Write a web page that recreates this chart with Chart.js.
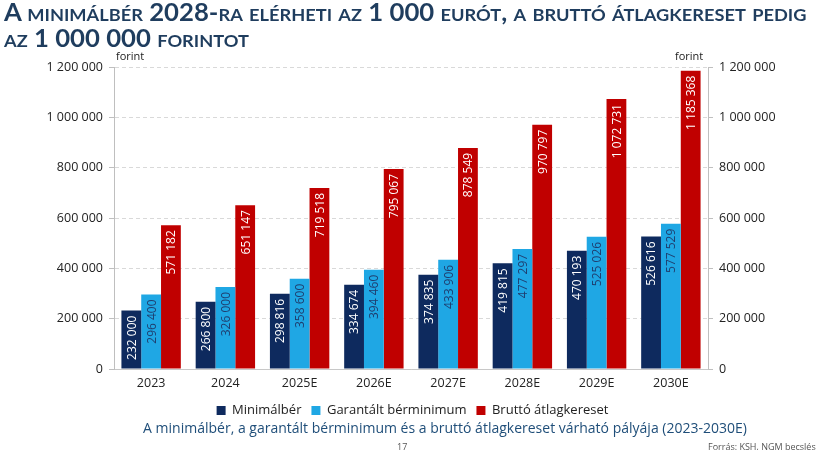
<!DOCTYPE html>
<html>
<head>
<meta charset="utf-8">
<script src="https://cdn.jsdelivr.net/npm/chart.js@4.4.1/dist/chart.umd.min.js"></script>
<style>
  body { margin: 0; background: #fff; }
  #wrap { position: relative; width: 825px; height: 450px; overflow: hidden; font-family: "Open Sans", sans-serif; }
  #chart { position: absolute; left: 0; top: 0; }
  .title { position: absolute; left: 4px; white-space: nowrap; font-family: Lato, sans-serif; font-weight: 700; font-variant: small-caps;
           color: #1f3d5e; font-size: 24px; line-height: 26px; transform-origin: 0 0; }
  .txt { position: absolute; white-space: nowrap; }
</style>
</head>
<body>
<div id="wrap">
  <canvas id="chart" width="825" height="450"></canvas>
  <div class="title" id="t1" style="top:-1px">A minimálbér 2028-ra elérheti az 1 000 eurót, a bruttó átlagkereset pedig</div>
  <div class="title" id="t2" style="top:25px">az 1 000 000 forintot</div>
  <div class="txt" style="left:116px; top:48px; font-size:11px; color:#222">forint</div>
  <div class="txt" style="left:675px; top:48px; font-size:11px; color:#222">forint</div>
  <div class="txt" style="left:0; width:890px; text-align:center; top:418px; font-size:14px; color:#1f4e79">A minimálbér, a garantált bérminimum és a bruttó átlagkereset várható pályája (2023-2030E)</div>
  <div class="txt" style="left:397px; top:440px; font-size:9px; color:#555">17</div>
  <div class="txt" style="left:708px; top:440px; font-size:9px; color:#555">Forrás: KSH, NGM becslés</div>
</div>
<script>
const years = ["2023", "2024", "2025E", "2026E", "2027E", "2028E", "2029E", "2030E"];
const minimalber = [232000, 266800, 298816, 334674, 374835, 419815, 470193, 526616];
const garantalt = [296400, 326000, 358600, 394460, 433906, 477297, 525026, 577529];
const brutto = [571182, 651147, 719518, 795067, 878549, 970797, 1072731, 1185368];
const yTicks = [0, 200000, 400000, 600000, 800000, 1000000, 1200000];

const fmt = v => String(v).replace(/\B(?=(\d{3})+(?!\d))/g, " ");

// stretch title line 1 to the slide width
const t1 = document.getElementById("t1");
const sc = 802 / t1.offsetWidth;
t1.style.transform = "scaleX(" + sc + ")";
document.getElementById("t2").style.transform = "scaleX(" + sc + ")";

// rotated value labels inside the top of each bar
const barLabels = {
  id: "barLabels",
  afterDatasetsDraw(chart) {
    const ctx = chart.ctx;
    chart.data.datasets.forEach((ds, i) => {
      const meta = chart.getDatasetMeta(i);
      meta.data.forEach((bar, j) => {
        ctx.save();
        ctx.translate(bar.x, bar.y + 5);
        ctx.rotate(-Math.PI / 2);
        ctx.font = "12px 'Open Sans'";
        ctx.fillStyle = ds.labelColor;
        ctx.textAlign = "right";
        ctx.textBaseline = "middle";
        ctx.fillText(fmt(ds.data[j]), 0, 1);
        ctx.restore();
      });
    });
  }
};

const tickFont = { family: "Open Sans", size: 12.5 };

new Chart(document.getElementById("chart"), {
  type: "bar",
  data: {
    labels: years,
    datasets: [
      { label: "Minimálbér", data: minimalber, backgroundColor: "#0e2a5e", labelColor: "#ffffff" },
      { label: "Garantált bérminimum", data: garantalt, backgroundColor: "#1fa7e4", labelColor: "#1f3f70" },
      { label: "Bruttó átlagkereset", data: brutto, backgroundColor: "#c00000", labelColor: "#ffffff" }
    ]
  },
  options: {
    responsive: false,
    animation: false,
    devicePixelRatio: 1,
    categoryPercentage: 0.8,
    barPercentage: 1,
    layout: { padding: { top: 67, bottom: 23, left: 0, right: 0 } },
    plugins: {
      title: { display: false },
      tooltip: { enabled: false },
      legend: {
        position: "bottom",
        labels: { boxWidth: 9, boxHeight: 9, padding: 10, color: "#222", font: { family: "Open Sans", size: 13 } }
      }
    },
    scales: {
      x: {
        grid: { display: false, drawTicks: false },
        border: { display: true, color: "#c8c8c8" },
        ticks: { color: "#222", font: tickFont, padding: 7 },
        afterFit(s) { s.height = 25; }
      },
      y: {
        position: "left",
        min: 0, max: 1200000,
        afterBuildTicks(s) { s.ticks = yTicks.map(v => ({ value: v })); },
        grid: { color: "#d9d9d9", tickColor: "#bfbfbf", tickLength: 5 },
        border: { display: true, color: "#bfbfbf", dash: [4, 3] },
        ticks: { color: "#222", font: tickFont, padding: 6, callback: v => fmt(v) },
        afterFit(s) { s.width = 114; }
      },
      y2: {
        position: "right",
        min: 0, max: 1200000,
        afterBuildTicks(s) { s.ticks = yTicks.map(v => ({ value: v })); },
        grid: { drawOnChartArea: false, tickColor: "#bfbfbf", tickLength: 5 },
        border: { display: true, color: "#bfbfbf" },
        ticks: { color: "#222", font: tickFont, padding: 6, callback: v => fmt(v) },
        afterFit(s) { s.width = 117; }
      }
    }
  },
  plugins: [barLabels]
});
</script>
</body>
</html>
